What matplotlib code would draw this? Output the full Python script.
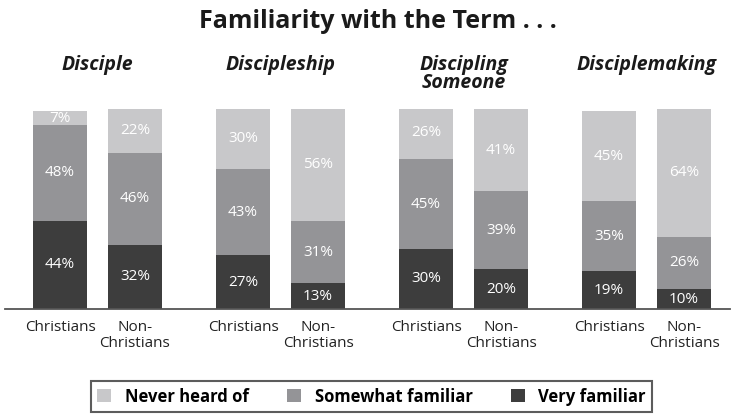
import matplotlib
matplotlib.use("Agg")
import matplotlib.pyplot as plt
from matplotlib.patches import Patch

terms = ["Disciple", "Discipleship", "Discipling\nSomeone", "Disciplemaking"]
groups = ["Christians", "Non-\nChristians"]
series = ["Very familiar", "Somewhat familiar", "Never heard of"]
very = [44, 32, 27, 13, 30, 20, 19, 10]
somewhat = [48, 46, 43, 31, 45, 39, 35, 26]
never = [7, 22, 30, 56, 26, 41, 45, 64]
colors = {"Very familiar": "#3d3d3d", "Somewhat familiar": "#949497", "Never heard of": "#c8c8ca"}

plt.rcParams['font.family'] = ['Open Sans', 'DejaVu Sans']
W, H = 735, 415
fig = plt.figure(figsize=(W / 100, H / 100), dpi=100)

def fx(px):
    return px / W

def fy(py):
    return 1 - py / H

ax = fig.add_axes([fx(5), fy(309), fx(725), 200 / H])
gstep, inner, bw = 183 / 75, 1.0, 0.72
xs = []
for g in range(len(terms)):
    xs += [g * gstep, g * gstep + inner]
ax.set_xlim((5 - 60) / 75, (730 - 60) / 75)
ax.set_ylim(0, 100)

bottom = [0] * len(xs)
for name, vals in zip(series, [very, somewhat, never]):
    ax.bar(xs, vals, bw, bottom=bottom, color=colors[name], linewidth=0, zorder=2)
    for x, b, v in zip(xs, bottom, vals):
        ax.text(x, b + v / 2, f"{v}%", ha='center', va='center', color='white',
                fontsize=11, fontweight='medium', clip_on=False)
    bottom = [b + v for b, v in zip(bottom, vals)]

for s in ['top', 'right', 'left']:
    ax.spines[s].set_visible(False)
ax.spines['bottom'].set_color('#555555')
ax.spines['bottom'].set_linewidth(1.3)
ax.set_yticks([])
ax.set_xticks([])
ax.patch.set_alpha(0)

# category labels under bars
for i, x in enumerate(xs):
    ax.annotate(groups[i % 2], xy=(x, 0), xycoords='data', xytext=(0, -11),
                textcoords='offset pixels', ha='center', va='top', fontsize=11,
                color='#222222', linespacing=1.1, annotation_clip=False)

# term titles
for g, t in enumerate(terms):
    cx = g * gstep + inner / 2
    ax.annotate(t, xy=(cx, 100), xycoords='data', xytext=(0, 109 - 55),
                textcoords='offset pixels', ha='center', va='top', fontsize=14,
                fontweight='bold', fontstyle='italic', color='#1a1a1a',
                linespacing=0.88, annotation_clip=False)

fig.text(fx(378), fy(22), "Familiarity with the Term . . .", ha='center', va='center',
         fontsize=18, fontweight='bold', color='#1a1a1a')

handles = [Patch(facecolor=colors[n], edgecolor='none') for n in series[::-1]]
leg = fig.legend(handles, series[::-1], loc='center', bbox_to_anchor=(fx(371.5), fy(396.5)),
                 ncol=3, frameon=True, fancybox=False, edgecolor='#333333',
                 prop={'weight': 'bold', 'size': 12}, handlelength=0.85, handleheight=0.85,
                 columnspacing=2.3, handletextpad=0.8, borderpad=0.4, borderaxespad=0)
leg.get_frame().set_linewidth(1.5)

fig.savefig("out.png", dpi=100)
